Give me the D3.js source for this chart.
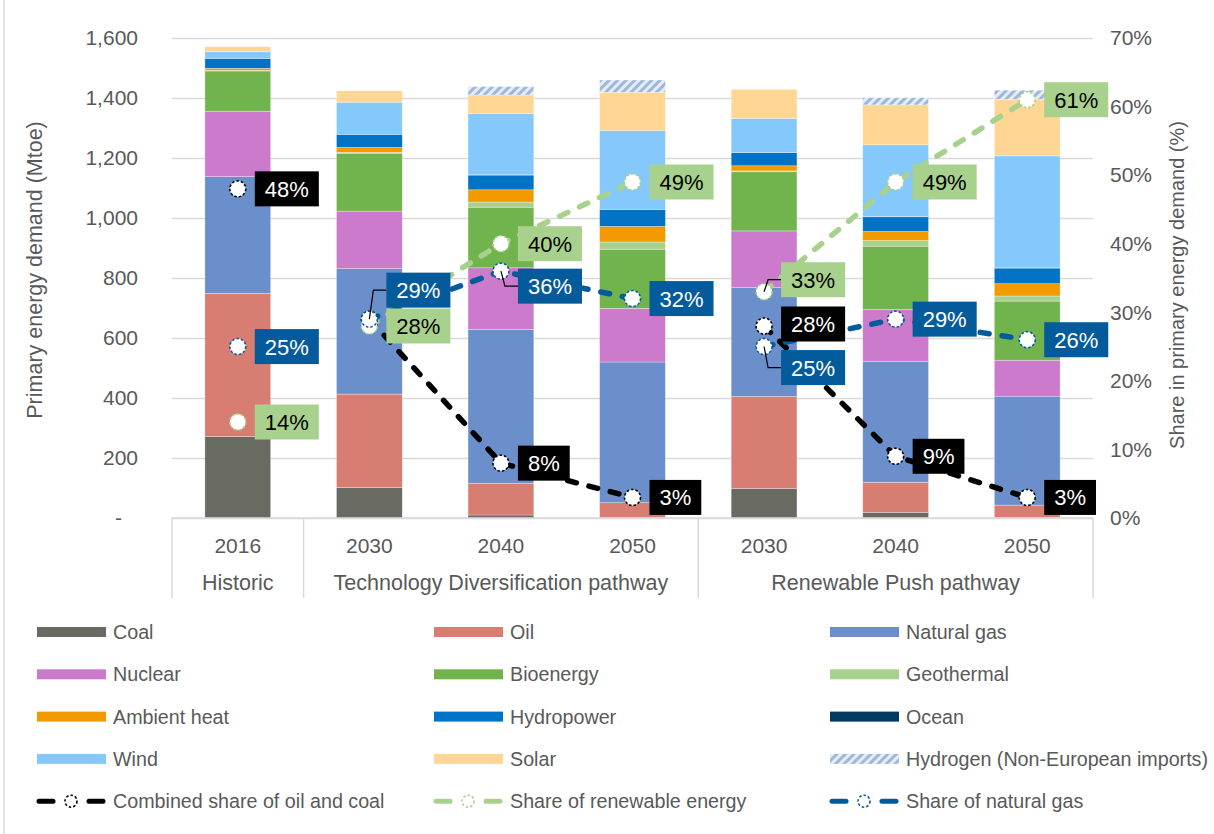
<!DOCTYPE html>
<meta charset="utf-8">
<html>
  <head>
    <script src="https://cdn.jsdelivr.net/npm/d3@7"></script>
    <style>
      body { margin: 0; background: #fff; }
      text { font-family: "Liberation Sans", Arial, sans-serif; }
    </style>
  </head>
  <body>
    <div id="chart"></div>

    <script type="text/javascript">
      // categories on the x axis
      var years = ["2016", "2030", "2040", "2050", "2030", "2040", "2050"];
      var groups = [
        { name: "Historic", from: 0, to: 1 },
        { name: "Technology Diversification pathway", from: 1, to: 4 },
        { name: "Renewable Push pathway", from: 4, to: 7 }
      ];

      // primary energy demand (Mtoe)
      var coal      = [271, 101,  10,   2,  98,  19,   2];
      var oil       = [478, 312, 106,  49, 307, 100,  41];
      var natGas    = [389, 418, 513, 469, 363, 403, 363];
      var nuclear   = [218, 192, 205, 179, 189, 173, 120];
      var bioenergy = [134, 193, 202, 197, 197, 211, 197];
      var geothermal= [  2,   3,  17,  24,   3,  19,  17];
      var ambient   = [  7,  16,  41,  52,  17,  30,  41];
      var hydro     = [ 33,  44,  49,  56,  44,  49,  52];
      var ocean     = [  0,   0,   1,   1,   0,   1,   1];
      var wind      = [ 22, 107, 204, 262, 114, 239, 373];
      var solar     = [ 17,  38,  62, 128,  97, 133, 189];
      var hydrogen  = [  0,   0,  28,  41,   0,  24,  30];

      // shares (%) on the right axis
      var shareOilCoal = [48, 29, 8, 3, 28, 9, 3];
      var shareRenew   = [14, 28, 40, 49, 33, 49, 61];
      var shareGas     = [25, 29, 36, 32, 25, 29, 26];

      var leftTicks = [0, 200, 400, 600, 800, 1000, 1200, 1400, 1600];
      var rightTicks = [0, 10, 20, 30, 40, 50, 60, 70];

      var sources = [
        { key: "coal", label: "Coal", values: coal, color: "#696A62" },
        { key: "oil", label: "Oil", values: oil, color: "#D87D72" },
        { key: "gas", label: "Natural gas", values: natGas, color: "#6B8FCA" },
        { key: "nuc", label: "Nuclear", values: nuclear, color: "#CC7ACB" },
        { key: "bio", label: "Bioenergy", values: bioenergy, color: "#71B34D" },
        { key: "geo", label: "Geothermal", values: geothermal, color: "#A9D18E" },
        { key: "amb", label: "Ambient heat", values: ambient, color: "#F29A00" },
        { key: "hyd", label: "Hydropower", values: hydro, color: "#0073C7" },
        { key: "oce", label: "Ocean", values: ocean, color: "#003A63" },
        { key: "win", label: "Wind", values: wind, color: "#85C9FC" },
        { key: "sol", label: "Solar", values: solar, color: "#FFD693" },
        { key: "h2", label: "Hydrogen (Non-European imports)", values: hydrogen, color: "url(#hatch)" }
      ];

      var shares = [
        { key: "oc", label: "Combined share of oil and coal", values: shareOilCoal, color: "#000000", box: "#000000", txt: "#ffffff" },
        { key: "ren", label: "Share of renewable energy", values: shareRenew, color: "#A9D18E", box: "#A9D18E", txt: "#000000" },
        { key: "gas", label: "Share of natural gas", values: shareGas, color: "#045B9B", box: "#045B9B", txt: "#ffffff" }
      ];

      // label tweaks where labels would collide
      var labelMoves = {
        "oc-1": { hide: true },
        "gas-1": { dy: -29, leader: true },
        "gas-2": { dy: 15, leader: true },
        "ren-4": { dy: -12, leader: true },
        "oc-4": { dy: -2 },
        "gas-4": { dy: 21, leader: true }
      };

      var width = 1214, height = 834,
          plotL = 172, plotR = 1093, plotT = 38, plotB = 518,
          textColor = "#595959", gridColor = "#D9D9D9";

      var svg = d3.select("#chart").append("svg")
          .attr("width", width)
          .attr("height", height);

      var defs = svg.append("defs");
      var pat = defs.append("pattern")
          .attr("id", "hatch")
          .attr("patternUnits", "userSpaceOnUse")
          .attr("width", 6).attr("height", 6)
          .attr("patternTransform", "rotate(45)");
      pat.append("rect").attr("width", 6).attr("height", 6).attr("fill", "#E6ECF3");
      pat.append("rect").attr("width", 3).attr("height", 6).attr("fill", "#9DB7DE");

      // frame line on the left
      svg.append("line")
          .attr("x1", 4).attr("x2", 4).attr("y1", 0).attr("y2", height)
          .style("stroke", gridColor).style("stroke-width", 1.5);

      var x = d3.scaleBand().domain(d3.range(years.length)).range([plotL, plotR]);
      var y = d3.scaleLinear().domain([0, 1600]).range([plotB, plotT]);
      var y2 = d3.scaleLinear().domain([0, 70]).range([plotB, plotT]);
      var barW = x.bandwidth() * 0.5;
      var cx = function(i) { return x(i) + x.bandwidth() / 2; };

      // gridlines
      var grid = svg.append("g")
          .attr("transform", "translate(" + plotL + ",0)")
          .call(d3.axisLeft(y).tickValues(leftTicks).tickSize(-(plotR - plotL)).tickFormat(""));
      grid.select(".domain").remove();
      grid.selectAll("line").style("stroke", gridColor).style("stroke-width", 1.5);

      // left axis labels
      var yAxis = svg.append("g")
          .attr("transform", "translate(138,0)")
          .call(d3.axisLeft(y).tickValues(leftTicks).tickSize(0).tickPadding(0)
            .tickFormat(function(d) { return d === 0 ? "-" : d3.format(",")(d); }));
      yAxis.select(".domain").remove();
      yAxis.selectAll("text")
          .style("font-size", "21px").style("fill", textColor)
          .style("font-family", "Liberation Sans, Arial, sans-serif")
          .attr("dx", function(d) { return d === 0 ? -16 : 0; });

      // right axis labels
      var y2Axis = svg.append("g")
          .attr("transform", "translate(1110,0)")
          .call(d3.axisRight(y2).tickValues(rightTicks).tickSize(0).tickPadding(0)
            .tickFormat(function(d) { return d + "%"; }));
      y2Axis.select(".domain").remove();
      y2Axis.selectAll("text")
          .style("font-size", "21px").style("fill", textColor)
          .style("font-family", "Liberation Sans, Arial, sans-serif");

      // axis titles
      svg.append("text")
          .attr("transform", "translate(42,270) rotate(-90)")
          .style("text-anchor", "middle").style("font-size", "21.5px").style("fill", textColor)
          .text("Primary energy demand (Mtoe)");
      svg.append("text")
          .attr("transform", "translate(1184,285) rotate(-90)")
          .style("text-anchor", "middle").style("font-size", "20px").style("fill", textColor)
          .text("Share in primary energy demand (%)");

      // stacked bars
      var rows = years.map(function(d, i) {
        var r = { i: i };
        sources.forEach(function(s) { r[s.key] = s.values[i]; });
        return r;
      });
      var stack = d3.stack().keys(sources.map(function(s) { return s.key; }))(rows);

      svg.selectAll(".layer")
          .data(stack)
          .enter().append("g")
          .attr("class", "layer")
          .style("fill", function(d, i) { return sources[i].color; })
          .selectAll("rect")
          .data(function(d) { return d; })
          .enter().append("rect")
          .attr("x", function(d) { return cx(d.data.i) - barW / 2; })
          .attr("width", barW)
          .attr("y", function(d) { return y(d[1]); })
          .attr("height", function(d) { return y(d[0]) - y(d[1]); })
          .style("stroke", "#ffffff")
          .style("stroke-width", 0.6)
          .style("stroke-opacity", 0.5);

      // category axis (two levels)
      var cat = svg.append("g").style("stroke", gridColor).style("stroke-width", 1.5);
      cat.append("line").attr("x1", plotL).attr("x2", plotR).attr("y1", plotB).attr("y2", plotB);
      groups.forEach(function(g) {
        cat.append("line").attr("x1", x(g.from)).attr("x2", x(g.from)).attr("y1", plotB).attr("y2", 598);
      });
      cat.append("line").attr("x1", plotR).attr("x2", plotR).attr("y1", plotB).attr("y2", 598);

      svg.selectAll(".year")
          .data(years)
          .enter().append("text")
          .attr("x", function(d, i) { return cx(i); })
          .attr("y", 553)
          .style("text-anchor", "middle").style("font-size", "21px").style("fill", textColor)
          .text(function(d) { return d; });

      svg.selectAll(".group")
          .data(groups)
          .enter().append("text")
          .attr("x", function(g) { return (x(g.from) + x(g.to - 1) + x.bandwidth()) / 2; })
          .attr("y", 590)
          .style("text-anchor", "middle").style("font-size", "21.5px").style("fill", textColor)
          .text(function(g) { return g.name; });

      // share lines, one piece per pathway
      var line = d3.line()
          .x(function(d) { return cx(d.i); })
          .y(function(d) { return y2(d.v); });

      shares.forEach(function(s) {
        [[1, 2, 3], [4, 5, 6]].forEach(function(idx) {
          svg.append("path")
              .datum(idx.map(function(i) { return { i: i, v: s.values[i] }; }))
              .attr("d", line)
              .style("fill", "none")
              .style("stroke", s.color)
              .style("stroke-width", 5.5)
              .style("stroke-linecap", "round")
              .style("stroke-dasharray", "9,13");
        });
      });

      shares.forEach(function(s) {
        svg.selectAll(".m-" + s.key)
            .data(s.values)
            .enter().append("circle")
            .attr("cx", function(d, i) { return cx(i); })
            .attr("cy", function(d) { return y2(d); })
            .attr("r", 8)
            .style("fill", "#ffffff")
            .style("stroke", s.color)
            .style("stroke-width", 1.6)
            .style("stroke-dasharray", "2.5,2");
      });

      // data labels
      shares.forEach(function(s) {
        s.values.forEach(function(v, i) {
          var mv = labelMoves[s.key + "-" + i] || {};
          if (mv.hide) return;
          var mx = cx(i), my = y2(v), dy = mv.dy || 0;
          if (mv.leader) {
            svg.append("path")
                .attr("d", "M" + mx + "," + my + "L" + (mx + 4) + "," + (my + dy) + "L" + (mx + 17) + "," + (my + dy))
                .style("fill", "none").style("stroke", "#000").style("stroke-width", 1.2);
          }
          var g = svg.append("g");
          var rect = g.append("rect");
          var t = g.append("text")
              .attr("x", mx + 27)
              .attr("y", my + dy + 8)
              .style("font-size", "22px")
              .style("fill", s.txt)
              .text(v + "%");
          var tw = t.node().getComputedTextLength();
          rect.attr("x", mx + 17).attr("y", my + dy - 17.5)
              .attr("width", tw + 20).attr("height", 35)
              .style("fill", s.box);
        });
      });

      // legend
      var legendItems = sources.concat(shares);
      var legend = svg.selectAll(".legend")
          .data(legendItems)
          .enter().append("g")
          .attr("transform", function(d, i) {
            return "translate(" + [37, 434, 830][i % 3] + "," + (632 + Math.floor(i / 3) * 42.3) + ")";
          });

      legend.filter(function(d) { return !d.box; })
          .append("rect")
          .attr("x", 0).attr("y", -5).attr("width", 69).attr("height", 10)
          .style("fill", function(d) { return d.color; });

      var lineKeys = legend.filter(function(d) { return d.box; });
      lineKeys.append("line").attr("x1", 2).attr("x2", 16).attr("y1", 0).attr("y2", 0)
          .style("stroke", function(d) { return d.color; }).style("stroke-width", 5).style("stroke-linecap", "round");
      lineKeys.append("line").attr("x1", 52).attr("x2", 66).attr("y1", 0).attr("y2", 0)
          .style("stroke", function(d) { return d.color; }).style("stroke-width", 5).style("stroke-linecap", "round");
      lineKeys.append("circle").attr("cx", 34).attr("cy", 0).attr("r", 6)
          .style("fill", "#ffffff")
          .style("stroke", function(d) { return d.color; })
          .style("stroke-width", 1.6).style("stroke-dasharray", "2.5,2");

      legend.append("text")
          .attr("x", 76).attr("y", 7)
          .style("font-size", "19.7px").style("fill", textColor)
          .text(function(d) { return d.label; });
    </script>
  </body>
</html>
